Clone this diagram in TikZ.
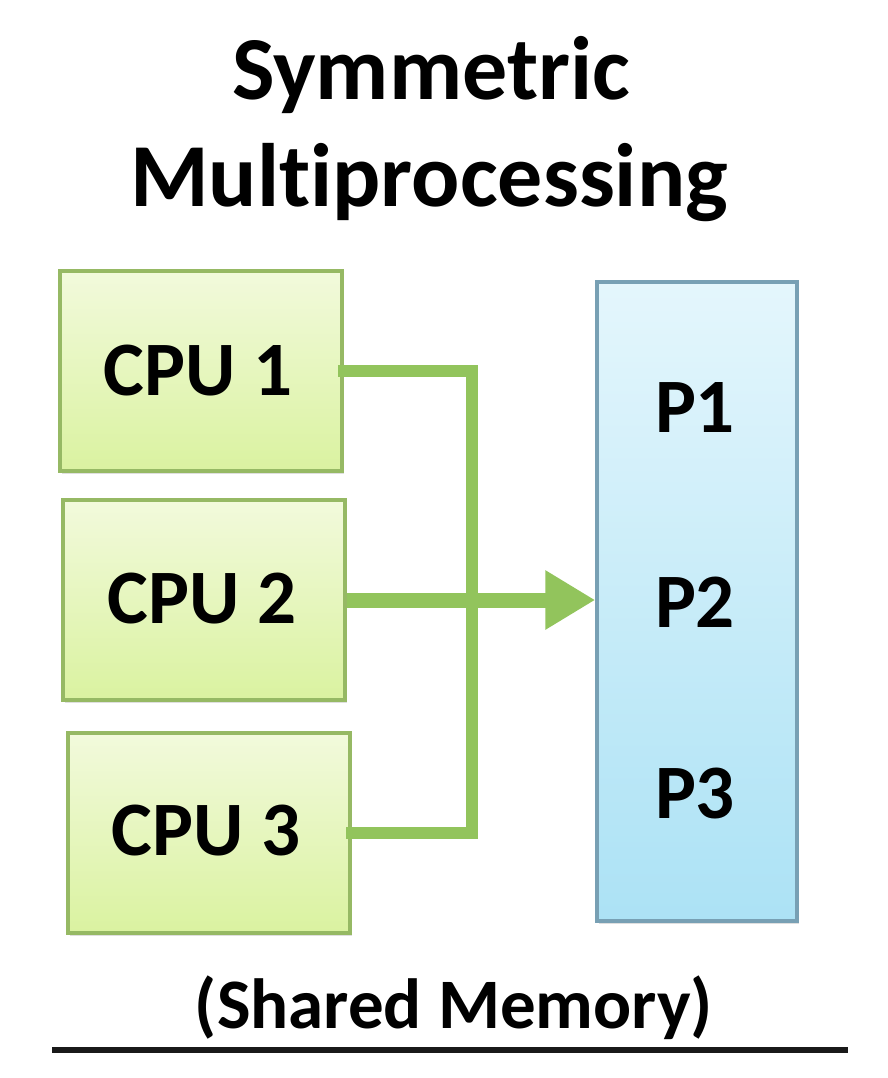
\documentclass[tikz,border=0pt]{standalone}
\usepackage{fontspec}
\setmainfont{Carlito}[Ligatures=NoCommon]
\usetikzlibrary{arrows.meta,shadows}
\definecolor{busgreen}{RGB}{146,196,92}
\definecolor{cpuborder}{RGB}{150,185,100}
\definecolor{cputop}{RGB}{242,250,220}
\definecolor{cpubot}{RGB}{218,242,160}
\definecolor{memborder}{RGB}{120,160,180}
\definecolor{memtop}{RGB}{228,246,252}
\definecolor{membot}{RGB}{172,226,245}
\tikzset{
  cpubox/.style={draw=cpuborder, line width=3.5pt, top color=cputop, bottom color=cpubot,
    minimum width=282pt, minimum height=200pt, inner sep=0pt,
    drop shadow={opacity=0.25, shadow xshift=2pt, shadow yshift=-3pt}},
  membox/.style={draw=memborder, line width=3.5pt, top color=memtop, bottom color=membot,
    minimum width=200pt, minimum height=639pt, inner sep=0pt,
    drop shadow={opacity=0.25, shadow xshift=2pt, shadow yshift=-3pt}},
  lbl/.style={font=\bfseries\fontsize{77}{82}\selectfont, anchor=base, inner sep=0pt},
  ttl/.style={font=\bfseries\fontsize{90}{96}\selectfont, anchor=base, inner sep=0pt},
  sub/.style={font=\bfseries\fontsize{71}{76}\selectfont, anchor=base, inner sep=0pt},
  bus/.style={draw=busgreen, line width=12pt, line cap=rect},
  busarrow/.style={draw=busgreen, line width=15pt, -{Triangle[length=50pt,width=56pt]}}
}
\begin{document}
\begin{tikzpicture}[x=1pt,y=-1pt]
\useasboundingbox[fill=white] (0,0) rectangle (888,1078);
% title
\node[ttl] (t1) at (431,100) {Symmetric};
\node[ttl] (t2) at (429,207) {Multiprocessing};
% boxes
\node[cpubox] (c1) at (201,371) {};
\node[cpubox] (c2) at (204,600) {};
\node[cpubox] (c3) at (209,833) {};
\node[membox] (mem) at (697,601.5) {};
% labels
\node[lbl] (l1) at (198,395) {CPU 1};
\node[lbl] (l2) at (202,623) {CPU 2};
\node[lbl] (l3) at (206,855) {CPU 3};
\node[lbl] (p1) at (695,432) {P1};
\node[lbl] (p2) at (695,627) {P2};
\node[lbl] (p3) at (695,818) {P3};
% connectors
\coordinate (bx) at (472,0);
\draw[bus] (c1.east) -- (c1.east -| bx) -- (c3.east -| bx) -- (c3.east);
\draw[busarrow] (c2.east) -- (c2.east -| mem.west);
% caption
\node[sub] (cap) at (454,1028) {(Shared Memory)};
\coordinate (la) at (52,1050);
\coordinate (lb) at (848,1050);
\draw[line width=6pt, black!90] (la) -- (lb);
\end{tikzpicture}
\end{document}
